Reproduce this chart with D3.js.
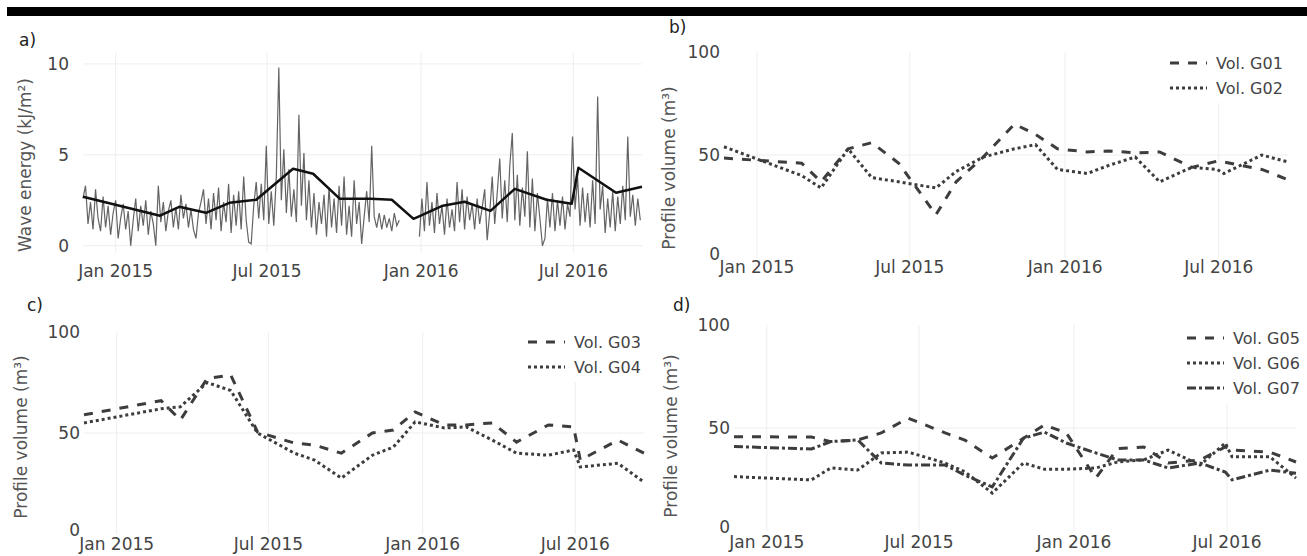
<!DOCTYPE html>
<html>
<head>
<meta charset="utf-8">
<script src="https://cdn.jsdelivr.net/npm/d3@7"></script>
<style>
  body { margin: 0; background: #fff; }
  svg { display: block; }
</style>
</head>
<body>
<div id="chart"></div>
<script>
/* global d3 */

// Canvas
const width = 1307,
    height = 556

// Survey dates shared by every panel
const surveyDates = ['2014-11-23', '2015-02-23', '2015-03-18', '2015-04-19', '2015-05-17', '2015-06-18',
    '2015-08-01', '2015-08-25', '2015-09-26', '2015-11-02', '2015-11-27', '2015-12-23', '2016-01-27',
    '2016-02-22', '2016-03-24', '2016-04-22', '2016-05-30', '2016-06-29', '2016-07-07', '2016-08-21', '2016-09-21']

// a) mean wave energy between surveys (kJ/m2)
const waveMean = [2.69, 1.65, 2.14, 1.81, 2.36, 2.53, 4.23, 3.96, 2.58, 2.58, 2.53, 1.48, 2.2, 2.42, 1.92, 3.13, 2.53, 2.31, 4.29, 2.91, 3.24]

// a) wave energy record, one reading every 3 days from waveStart (null = no data)
const waveStart = '2014-11-23'
const waveStepDays = 3
const waveEnergy = [
    2.6, 3.3, 1.2, 2.4, 0.9, 3.1, 1.5, 0.8, 2.7, 1.0,
    2.2, 0.6, 1.8, 2.5, 0.4, 1.5, 2.3, 0.9, 1.9, 0.0,
    1.4, 2.6, 0.8, 2.2, 1.1, 2.5, 0.6, 1.9, 1.2, 0.0,
    3.3, 1.3, 2.4, 0.8, 1.9, 2.5, 1.0, 2.1, 0.9, 2.8,
    1.5, 2.3, 1.0, 2.0, 0.9, 0.4, 1.8, 2.4, 3.1, 1.2,
    2.6, 0.9, 2.9, 1.4, 3.2, 0.8, 2.4, 1.3, 3.4, 0.7,
    2.8, 1.1, 3.0, 0.9, 3.8, 1.4, 0.2, 0.1, 2.2, 3.5,
    1.5, 3.4, 1.4, 5.5, 1.2, 3.0, 1.1, 3.8, 9.8, 2.5,
    5.3, 1.8, 4.2, 1.6, 3.1, 1.3, 7.2, 2.2, 5.1, 1.4,
    3.6, 1.0, 2.9, 0.6, 2.4, 1.2, 2.8, 0.5, 3.2, 1.0,
    2.6, 0.7, 3.3, 1.1, 3.8, 0.6, 2.2, 0.5, 3.6, 1.2,
    2.4, 0.1, 1.6, 3.0, 1.3, 5.5, 1.6, 1.0, 1.8, 0.9,
    1.7, 1.0, 1.5, 0.8, 1.8, 1.1, 1.4, null, null, null,
    null, null, null, null, 0.5, 2.6, 0.8, 3.5, 1.1, 2.4,
    0.7, 2.9, 1.2, 2.2, 0.6, 2.6, 1.0, 2.0, 0.8, 3.5,
    1.3, 3.1, 0.9, 2.7, 1.4, 2.3, 0.9, 2.6, 1.2, 2.1,
    3.1, 0.3, 1.8, 3.8, 1.2, 2.9, 4.8, 1.5, 3.6, 1.3,
    4.4, 6.2, 1.4, 3.9, 1.1, 3.2, 1.6, 5.2, 1.0, 3.7,
    0.8, 2.9, 1.5, 0.0, 0.4, 2.6, 1.0, 2.9, 0.8, 2.5,
    1.1, 2.7, 0.9, 2.3, 1.6, 6.0, 2.0, 3.8, 1.1, 3.2,
    1.3, 2.9, 1.0, 3.6, 1.2, 8.2, 2.0, 3.3, 0.7, 2.6,
    1.0, 3.0, 0.8, 2.7, 1.2, 3.3, 1.4, 6.0, 1.6, 2.8,
    1.1, 2.6, 1.4]

// b) - d) profile volumes (m3)
const volG01 = [48.5, 46, 37, 53, 56, 46, 21, 37, 49, 65, 60, 53, 51.5, 52, 51, 51.5, 44, 47, 46.6, 43, 38]
const volG02 = [54, 40, 34, 53, 39, 37, 34, 42, 49, 53, 55, 43, 41, 45, 49, 37, 44, 43, 41, 50, 46.6]
const volG03 = [59, 66, 56.4, 77, 78.7, 50.5, 45, 44, 40, 50, 51.5, 60.4, 54, 54, 55, 45.5, 54, 53, 36.6, 46.5, 40]
const volG04 = [55, 62, 63, 75, 71, 50, 40, 36.6, 27.7, 39, 43, 55.5, 52.5, 53, 46.5, 40, 39, 41.6, 33.2, 35, 25.7]
const volG05 = [45.8, 45.6, 43.4, 44.2, 47.6, 54.8, 47.6, 44, 35.4, 45, 51.5, 47.6, 25.7, 40, 40.8, 33, 34.5, 40.8, 39.3, 38.3, 33.5]
const volG06 = [26.4, 24.8, 30.6, 29.6, 37.9, 38.3, 33, 28.6, 18.4, 33, 30, 30, 30.6, 33.5, 34.5, 39.3, 32, 42.7, 36, 36, 25.7]
const volG07 = [41, 39.8, 43.4, 44.2, 33, 32, 32, 27, 21.4, 45, 48, 42.7, 37.9, 34.5, 34.5, 30.6, 33, 28.6, 24.8, 29.6, 28]

const xTicks = ['2015-01-01', '2015-07-01', '2016-01-01', '2016-07-01']

const parse = d3.timeParse('%Y-%m-%d')
const dates = surveyDates.map(parse)
const tickDates = xTicks.map(parse)
const fmt = d3.timeFormat('%b %Y')
const font = 'DejaVu Sans'

let svg = d3.select('#chart')
    .append('svg')
    .attr('width', width)
    .attr('height', height)
    .style('background', '#fff')

// black rule across the top
svg.append('rect')
    .attr('x', 7).attr('y', 7)
    .attr('width', width - 7).attr('height', 9)
    .attr('fill', '#000')

const dashes = { dash: '9,9', dot: '3,3', dashdot: '9,3,3,3' }

let drawPanel = (p) => {
    const x = d3.scaleTime()
        .domain([dates[0], dates[dates.length - 1]])
        .range([p.left, p.right])
    const y = d3.scaleLinear()
        .domain(p.yDomain)
        .range([p.bottom, p.top])
    const g = svg.append('g')

    // grid
    g.selectAll('.vgrid')
        .data(tickDates)
        .enter()
        .append('line')
        .attr('x1', d => x(d)).attr('x2', d => x(d))
        .attr('y1', p.top).attr('y2', p.bottom)
        .attr('stroke', '#eee')
    g.selectAll('.hgrid')
        .data(p.gridY)
        .enter()
        .append('line')
        .attr('x1', p.left).attr('x2', p.right)
        .attr('y1', d => y(d)).attr('y2', d => y(d))
        .attr('stroke', '#eee')

    // tick labels
    g.selectAll('.xlab')
        .data(tickDates)
        .enter()
        .append('text')
        .attr('x', d => x(d))
        .attr('y', p.bottom + p.xLabelDy)
        .attr('text-anchor', 'middle')
        .attr('font-family', font)
        .attr('font-size', 17)
        .attr('fill', '#444')
        .text(d => fmt(d))
    g.selectAll('.ylab')
        .data(p.yTicks)
        .enter()
        .append('text')
        .attr('x', p.left - p.yLabelGap)
        .attr('y', d => y(d) - (d === 0 ? p.zeroLift || 0 : 0))
        .attr('dy', '0.35em')
        .attr('text-anchor', 'end')
        .attr('font-family', font)
        .attr('font-size', 17)
        .attr('fill', '#444')
        .text(d => d)

    // axis title
    g.append('text')
        .attr('transform', `translate(${p.titleX},${p.titleY}) rotate(-90)`)
        .attr('text-anchor', 'middle')
        .attr('dy', '0.35em')
        .attr('font-family', font)
        .attr('font-size', 17)
        .attr('fill', '#555')
        .text(p.title)

    // panel letter
    g.append('text')
        .attr('x', p.letterX).attr('y', p.letterY)
        .attr('dy', '0.35em')
        .attr('font-family', font)
        .attr('font-size', 17)
        .attr('fill', '#222')
        .text(p.letter)

    return { g, x, y }
}

// ---- a) wave energy
let pa = drawPanel({
    left: 83, right: 642, top: 53, bottom: 253,
    yDomain: [-0.4, 10.6], yTicks: [0, 5, 10], gridY: [0, 5, 10],
    xLabelDy: 24, yLabelGap: 14,
    title: 'Wave energy (kJ/m²)', titleX: 25, titleY: 165,
    letter: 'a)', letterX: 19, letterY: 40
})
const waveT0 = parse(waveStart)
const wavePts = waveEnergy.map((v, i) => ({ t: d3.timeDay.offset(waveT0, i * waveStepDays), v: v }))
pa.g.append('path')
    .datum(wavePts)
    .attr('fill', 'none')
    .attr('stroke', '#222')
    .attr('stroke-opacity', 0.7)
    .attr('stroke-width', 1.2)
    .attr('d', d3.line()
        .defined(d => d.v !== null)
        .x(d => pa.x(d.t))
        .y(d => pa.y(d.v)))
pa.g.append('path')
    .datum(waveMean)
    .attr('fill', 'none')
    .attr('stroke', '#111')
    .attr('stroke-width', 2.5)
    .attr('stroke-linejoin', 'round')
    .attr('d', d3.line()
        .x((d, i) => pa.x(dates[i]))
        .y(d => pa.y(d)))

// ---- volume panels
let volumePanel = (p, series, legend) => {
    let pp = drawPanel(Object.assign({
        yDomain: [0, 100], yTicks: [0, 50, 100], gridY: [50],
        title: 'Profile volume (m³)', zeroLift: 4
    }, p))
    series.forEach(s => {
        pp.g.append('path')
            .datum(s.values)
            .attr('fill', 'none')
            .attr('stroke', '#3d3d3d')
            .attr('stroke-width', 3)
            .attr('stroke-dasharray', dashes[s.dash])
            .attr('d', d3.line()
                .x((d, i) => pp.x(dates[i]))
                .y(d => pp.y(d)))
    })
    // legend
    const lg = pp.g.append('g')
    lg.append('rect')
        .attr('x', legend.x - 6).attr('y', legend.y - 14)
        .attr('width', 132).attr('height', series.length * 25 + 4)
        .attr('fill', '#fff')
    series.forEach((s, i) => {
        const ly = legend.y + i * 25
        lg.append('line')
            .attr('x1', legend.x).attr('x2', legend.x + 37)
            .attr('y1', ly).attr('y2', ly)
            .attr('stroke', '#3d3d3d')
            .attr('stroke-width', 3)
            .attr('stroke-dasharray', dashes[s.dash])
        lg.append('text')
            .attr('x', legend.x + 46).attr('y', ly)
            .attr('dy', '0.35em')
            .attr('font-family', font)
            .attr('font-size', 16)
            .attr('fill', '#444')
            .text(s.name)
    })
}

volumePanel({
    left: 724, right: 1288, top: 52, bottom: 258,
    xLabelDy: 15, yLabelGap: 4,
    titleX: 669, titleY: 168, letter: 'b)', letterX: 669, letterY: 27
}, [
    { name: 'Vol. G01', values: volG01, dash: 'dash' },
    { name: 'Vol. G02', values: volG02, dash: 'dot' }
], { x: 1170, y: 63 })

volumePanel({
    left: 84, right: 644, top: 332, bottom: 534,
    xLabelDy: 16, yLabelGap: 4,
    titleX: 21, titleY: 437, letter: 'c)', letterX: 27, letterY: 305
}, [
    { name: 'Vol. G03', values: volG03, dash: 'dash' },
    { name: 'Vol. G04', values: volG04, dash: 'dot' }
], { x: 528, y: 342 })

volumePanel({
    left: 734, right: 1296, top: 325, bottom: 531,
    xLabelDy: 17, yLabelGap: 4,
    titleX: 671, titleY: 436, letter: 'd)', letterX: 673, letterY: 305
}, [
    { name: 'Vol. G05', values: volG05, dash: 'dash' },
    { name: 'Vol. G06', values: volG06, dash: 'dot' },
    { name: 'Vol. G07', values: volG07, dash: 'dashdot' }
], { x: 1187, y: 338 })
</script>
</body>
</html>
